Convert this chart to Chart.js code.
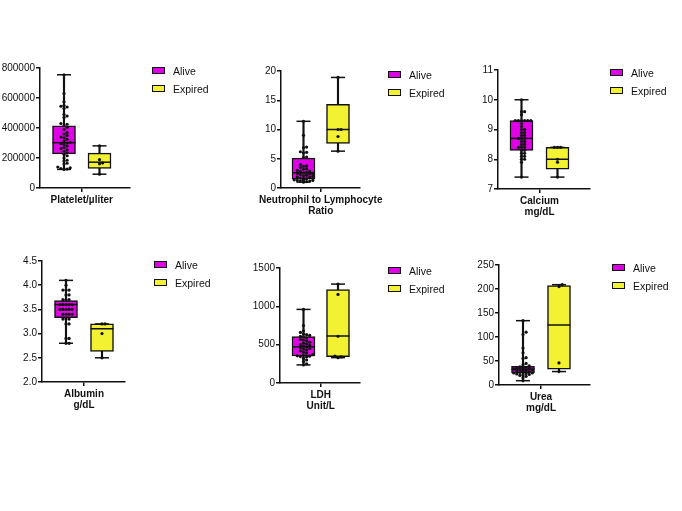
<!DOCTYPE html>
<html>
<head>
<meta charset="utf-8">
<script src="https://cdn.jsdelivr.net/npm/chart.js@4.4.1/dist/chart.umd.min.js"></script>
<style>
  html, body { margin: 0; padding: 0; background: #fff; }
  body { width: 682px; height: 511px; position: relative; overflow: hidden; font-family: "Liberation Sans", Arial, sans-serif; }
  canvas { position: absolute; }
  .legend { position: absolute; font-size: 10.5px; color: #111; }
  .legend .item { position: absolute; left: 0; white-space: nowrap; line-height: 12px; height: 12px; }
  .legend .sw { position: absolute; left: 0; top: 2px; width: 11px; height: 5px; border: 1.5px solid #111; }
  .legend .txt { position: absolute; left: 21px; top: 0; }
</style>
</head>
<body>
<script>
const groups = ['Alive', 'Expired'];
const groupColors = ['#e000e8', '#f2f232'];

// box stats per group: [min, q1, median, q3, max]
const plateletLabel = ['Platelet/µliter'];
const plateletTicks = [0, 200000, 400000, 600000, 800000];
const plateletBox = [[124000, 227000, 302000, 414000, 755000], [92000, 131000, 172000, 232000, 281000]];
const plateletAlive = [755000, 630000, 575000, 550000, 545000, 540000, 530000, 490000, 480000, 470000, 430000, 425000,
  415000, 405000, 390000, 370000, 360000, 350000, 340000, 335000, 325000, 315000, 305000, 300000, 295000, 290000,
  280000, 270000, 262000, 255000, 245000, 235000, 225000, 215000, 200000, 185000, 180000, 165000, 160000, 140000,
  135000, 130000, 126000, 124000];
const plateletExpired = [281000, 189000, 167000, 161000, 92000];

const nlrLabel = ['Neutrophil to Lymphocyte', 'Ratio'];
const nlrTicks = [0, 5, 10, 15, 20];
const nlrBox = [[1.0, 1.5, 2.6, 5.1, 11.4], [6.3, 7.6, 10.0, 14.3, 18.9]];
const nlrAlive = [11.4, 9.0, 7.0, 6.9, 6.2, 6.1, 6.0, 5.3, 5.2, 4.0, 3.8, 3.7, 3.5, 3.3, 3.2, 3.0, 2.9, 2.8, 2.7, 2.6,
  2.5, 2.5, 2.4, 2.3, 2.2, 2.1, 2.0, 1.9, 1.8, 1.7, 1.6, 1.6, 1.5, 1.5, 1.4, 1.4, 1.3, 1.3, 1.2, 1.2, 1.1, 1.0];
const nlrExpired = [18.9, 10.0, 10.0, 8.8, 6.3];

const calciumLabel = ['Calcium', 'mg/dL'];
const calciumTicks = [7, 8, 9, 10, 11];
const calciumBox = [[7.4, 8.3, 8.7, 9.3, 10.0], [7.4, 7.67, 8.0, 8.4, 8.4]];
const calciumAlive = [10.0, 9.6, 9.6, 9.5, 9.3, 9.3, 9.3, 9.3, 9.3, 9.3, 9.2, 9.1, 9.0, 9.0, 8.9, 8.9, 8.8, 8.8, 8.7,
  8.7, 8.7, 8.6, 8.6, 8.5, 8.5, 8.4, 8.4, 8.4, 8.3, 8.3, 8.2, 8.2, 8.1, 8.1, 8.0, 8.0, 7.9, 7.4];
const calciumExpired = [8.4, 8.4, 8.4, 8.0, 7.9, 7.4];

const albuminLabel = ['Albumin', 'g/dL'];
const albuminTicks = [2.0, 2.5, 3.0, 3.5, 4.0, 4.5];
const albuminBox = [[2.8, 3.33, 3.6, 3.68, 4.1], [2.5, 2.63, 3.1, 3.2, 3.2]];
const albuminAlive = [4.1, 4.0, 3.9, 3.9, 3.9, 3.8, 3.8, 3.7, 3.7, 3.7, 3.6, 3.6, 3.6, 3.6, 3.6, 3.5, 3.5, 3.5, 3.5,
  3.5, 3.4, 3.4, 3.4, 3.4, 3.3, 3.3, 3.3, 3.2, 3.2, 2.9, 2.9, 2.8, 2.8];
const albuminExpired = [3.2, 3.2, 3.0, 2.5];

const ldhLabel = ['LDH', 'Unit/L'];
const ldhTicks = [0, 500, 1000, 1500];
const ldhBox = [[236, 352, 472, 605, 960], [331, 344, 613, 1218, 1290]];
const ldhAlive = [960, 750, 680, 660, 640, 630, 620, 610, 600, 590, 570, 560, 550, 530, 520, 510, 500, 490, 480, 470,
  460, 450, 440, 430, 420, 400, 390, 370, 360, 355, 350, 345, 340, 320, 300, 280, 250, 236];
const ldhExpired = [1290, 1155, 610, 350, 340, 330];

const ureaLabel = ['Urea', 'mg/dL'];
const ureaTicks = [0, 50, 100, 150, 200, 250];
const ureaBox = [[9, 25, 33, 39, 134], [28, 33, 125, 207, 209]];
const ureaAlive = [134, 110, 105, 77, 67, 57, 55, 45, 42, 40, 38, 37, 36, 35, 34, 33, 32, 31, 30, 30, 29, 28, 28, 27,
  26, 25, 25, 24, 23, 22, 21, 20, 18, 15, 9];
const ureaExpired = [209, 205, 46, 28];

const panels = [
  {label: plateletLabel, ticks: plateletTicks, box: plateletBox, points: [plateletAlive, plateletExpired], decimals: 0},
  {label: nlrLabel, ticks: nlrTicks, box: nlrBox, points: [nlrAlive, nlrExpired], decimals: 0},
  {label: calciumLabel, ticks: calciumTicks, box: calciumBox, points: [calciumAlive, calciumExpired], decimals: 0},
  {label: albuminLabel, ticks: albuminTicks, box: albuminBox, points: [albuminAlive, albuminExpired], decimals: 1},
  {label: ldhLabel, ticks: ldhTicks, box: ldhBox, points: [ldhAlive, ldhExpired], decimals: 0},
  {label: ureaLabel, ticks: ureaTicks, box: ureaBox, points: [ureaAlive, ureaExpired], decimals: 0},
];

// page placement of each plot area (px)
const layout = [
  {xa: 40, xe: 130, yt: 63, yb: 188, ca: 64, ce: 99.5, lx: 152, ly: 71},
  {xa: 281, xe: 360, yt: 66, yb: 188, ca: 303.5, ce: 338, lx: 388, ly: 75},
  {xa: 498, xe: 590, yt: 65, yb: 189, ca: 521.5, ce: 557.5, lx: 610, ly: 73},
  {xa: 42, xe: 125, yt: 256, yb: 382, ca: 66, ce: 102, lx: 154, ly: 265},
  {xa: 280, xe: 360, yt: 263, yb: 383, ca: 303.5, ce: 338, lx: 388, ly: 271},
  {xa: 499, xe: 590, yt: 260, yb: 385, ca: 523, ce: 559, lx: 612, ly: 268},
];

Chart.defaults.font.family = '"Liberation Sans", Arial, sans-serif';
Chart.defaults.font.size = 10;
Chart.defaults.color = '#111';

const AXIS_W = 50;
const PAD_TOP = 8;
const AXIS_H = 40;
const CANVAS_W = 210;
const BOX_W = 23;

// simple beeswarm so points with close values spread sideways
function swarm(values, center, pxPerY, pxPerX) {
  const placed = [];
  const out = [];
  const sorted = values.slice().sort((a, b) => a - b);
  sorted.forEach(v => {
    const py = v * pxPerY;
    let off = 0;
    for (let k = 0; k < 7; k++) {
      const cand = k === 0 ? 0 : (k % 2 ? 1 : -1) * Math.ceil(k / 2) * 3.1;
      if (placed.every(p => Math.hypot(p.x - cand, p.y - py) >= 2.9)) { off = cand; break; }
    }
    placed.push({x: off, y: py});
    out.push({x: center + off / pxPerX, y: v});
  });
  return out;
}

function renderLegend(p) {
  const div = document.createElement('div');
  div.className = 'legend';
  div.style.left = p.lx + 'px';
  div.style.top = (p.ly - 6) + 'px';
  div.innerHTML = groups.map((g, i) =>
    `<div class="item" style="top:${i * 18}px"><span class="sw" style="background:${groupColors[i]}"></span><span class="txt">${g}</span></div>`
  ).join('');
  document.body.appendChild(div);
}

function buildPanel(pan, p) {
  const plotW = p.xe - p.xa;
  const plotH = p.yb - p.yt;
  const canvas = document.createElement('canvas');
  canvas.width = CANVAS_W;
  canvas.height = plotH + PAD_TOP + AXIS_H;
  canvas.style.left = (p.xa - AXIS_W) + 'px';
  canvas.style.top = (p.yt - PAD_TOP) + 'px';
  document.body.appendChild(canvas);

  const unit = p.ce - p.ca;
  const xMin = 1 - (p.ca - p.xa) / unit;
  const xMax = 2 + (p.xe - p.ce) / unit;
  const yMin = pan.ticks[0];
  const yMax = pan.ticks[pan.ticks.length - 1];
  const pxPerY = plotH / (yMax - yMin);

  const boxes = pan.box.map((b, i) => ({x: i + 1, y: [b[1], b[3]]}));
  const whiskers = pan.box.map((b, i) => ({x: i + 1, y: [b[0], b[4]]}));
  const medians = pan.box.map((b, i) => ({x: i + 1, y: b[2]}));
  const caps = [];
  pan.box.forEach((b, i) => { caps.push({x: i + 1, y: b[0]}, {x: i + 1, y: b[4]}); });

  const axisGrid = {display: true, drawOnChartArea: false, drawTicks: true, tickLength: 4, color: '#111', lineWidth: 1.5};
  const axisBorder = {display: true, color: '#111', width: 1.5};

  new Chart(canvas, {
    type: 'bar',
    data: {
      datasets: [
        {type: 'scatter', data: swarm(pan.points[0], 1, pxPerY, unit), pointRadius: 1.6, backgroundColor: '#111', borderWidth: 0, order: 1, clip: false},
        {type: 'scatter', data: swarm(pan.points[1], 2, pxPerY, unit), pointRadius: 1.6, backgroundColor: '#111', borderWidth: 0, order: 1, clip: false},
        {type: 'scatter', data: medians, pointStyle: 'line', pointRadius: BOX_W / 2, borderColor: '#111', borderWidth: 1.5, order: 2, clip: false},
        {type: 'scatter', data: caps, pointStyle: 'line', pointRadius: 7, borderColor: '#111', borderWidth: 1.5, order: 2, clip: false},
        {type: 'bar', data: boxes, backgroundColor: groupColors, borderColor: '#111', borderWidth: 1.5, borderSkipped: false,
          grouped: false, barPercentage: 1, categoryPercentage: 1, maxBarThickness: BOX_W, order: 3},
        {type: 'bar', data: whiskers, backgroundColor: '#111', borderWidth: 0, grouped: false,
          barPercentage: 1, categoryPercentage: 1, maxBarThickness: 1.5, order: 4},
      ]
    },
    options: {
      responsive: false,
      animation: false,
      events: [],
      layout: {padding: {top: PAD_TOP, right: CANVAS_W - AXIS_W - plotW, left: 0, bottom: 0}},
      plugins: {legend: {display: false}, tooltip: {enabled: false}},
      scales: {
        x: {
          type: 'linear', min: xMin, max: xMax, offset: false,
          afterBuildTicks: s => { s.ticks = [{value: 1.5}]; },
          afterFit: s => { s.height = AXIS_H; },
          ticks: {callback: () => pan.label, font: {weight: 'bold', size: 10, lineHeight: 1.15}, color: '#111',
            padding: 2, maxRotation: 0, autoSkip: false},
          grid: Object.assign({offset: false}, axisGrid),
          border: axisBorder,
        },
        y: {
          min: yMin, max: yMax,
          afterBuildTicks: s => { s.ticks = pan.ticks.map(v => ({value: v})); },
          afterFit: s => { s.width = AXIS_W; },
          ticks: {callback: v => Number(v).toFixed(pan.decimals), font: {size: 10}, color: '#111', padding: 1},
          grid: axisGrid,
          border: axisBorder,
        }
      }
    }
  });

  renderLegend(p);
}

panels.forEach((pan, i) => buildPanel(pan, layout[i]));
</script>
</body>
</html>
